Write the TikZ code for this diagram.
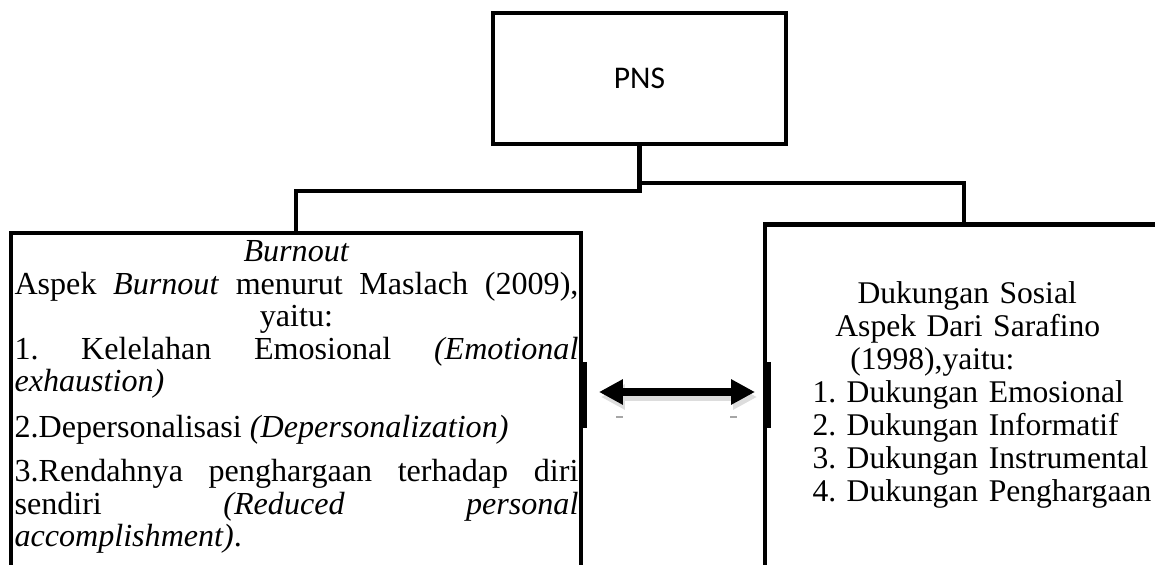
\documentclass[tikz,border=0pt]{standalone}
\usepackage{fontspec}
\setmainfont{Liberation Serif}
\newfontfamily\calibrifont{Carlito}
\usepackage{tikz}
\usetikzlibrary{positioning, arrows.meta}
\definecolor{shade}{HTML}{DDDDDD}
\definecolor{speck}{HTML}{A6A6A6}
\tikzset{
    panel/.style = {rectangle, draw=black, line width=1.8pt, inner sep=0pt},
    link/.style = {line width=1.7pt, color=black},
    edgebar/.style = {line width=2.9pt, color=black},
    biarrow/.style = {{Triangle[length=9.1pt,width=9.1pt]}-{Triangle[length=9.1pt,width=9.1pt]},
                      line width=3pt, color=black},
    bodytext/.style = {inner sep=0pt, font=\fontsize{12.2}{12.35}\selectfont},
    listtext/.style = {inner sep=0pt, font=\fontsize{12}{12.5}\selectfont},
}
\hbadness=10000
\tolerance=10000
\hyphenpenalty=10000
\frenchspacing

\begin{document}
\begin{tikzpicture}[x=0.38pt, y=-0.38pt]
        \clip (0,0) rectangle (1155,565);
        % boxes
        \node[panel, minimum width=111.3pt, minimum height=49.8pt,
              font=\calibrifont\fontsize{12}{14}\selectfont] (pns) at (639.5,78.5) {PNS};
        \node[panel, minimum width=216.6pt, minimum height=177.5pt] (burnout) at (296,466.5) {};
        \node[panel, minimum width=151.2pt, minimum height=180.7pt] (sosial) at (964,462.3) {};
        % tree lines
        \coordinate (jl) at (639.5,191);
        \coordinate (jr) at (639.5,183);
        \draw[link] (pns.south) -- (jl) -| (burnout.north);
        \draw[link] (jr) -| (sosial.north);
        % texts
        \node[bodytext, text width=214.3pt, align=justify, anchor=base west] (burnouttxt) at (14,262) {%
            \centerline{\textit{Burnout}}
            {\leftskip=0pt plus .5fil\rightskip=0pt plus -.5fil\parfillskip=0pt plus 1fil
            Aspek \textit{Burnout} menurut Maslach (2009),\linebreak yaitu:\par}
            1. Kelelahan Emosional \textit{(Emotional}\linebreak \textit{exhaustion)}\par\vspace{4.8pt}
            2.Depersonalisasi \textit{(Depersonalization)}\par\vspace{4.6pt}
            3.Rendahnya penghargaan terhadap diri\linebreak sendiri \textit{(Reduced personal}\linebreak
            \textit{accomplishment)}.\par};
        \node[listtext, text width=131.1pt, align=left, anchor=base west] (sosialtxt) at (812,304) {%
            \hspace*{17.1pt}Dukungan Sosial\\
            \hspace*{8.7pt}Aspek Dari Sarafino\\
            \hspace*{14.4pt}(1998),yaitu:\\
            1. Dukungan Emosional\\
            2. Dukungan Informatif\\
            3. Dukungan Instrumental\\
            4. Dukungan Penghargaan};
        % double arrow between the two sides
        \coordinate (al) at (599,392);
        \coordinate (ar) at (755,392);
        \draw[edgebar] (burnout.east |- 0,362) -- (burnout.east |- 0,428);
        \draw[edgebar] (767,362) -- (767,428);
        \draw[biarrow, color=shade] ([shift={(2,5)}]al) -- ([shift={(2,5)}]ar);
        \draw[biarrow] (al) -- (ar);
        \draw[speck, line width=0.8pt] (616,417) -- (623,417);
        \draw[speck, line width=0.8pt] (730,417) -- (737,417);
      \end{tikzpicture}
\end{document}
